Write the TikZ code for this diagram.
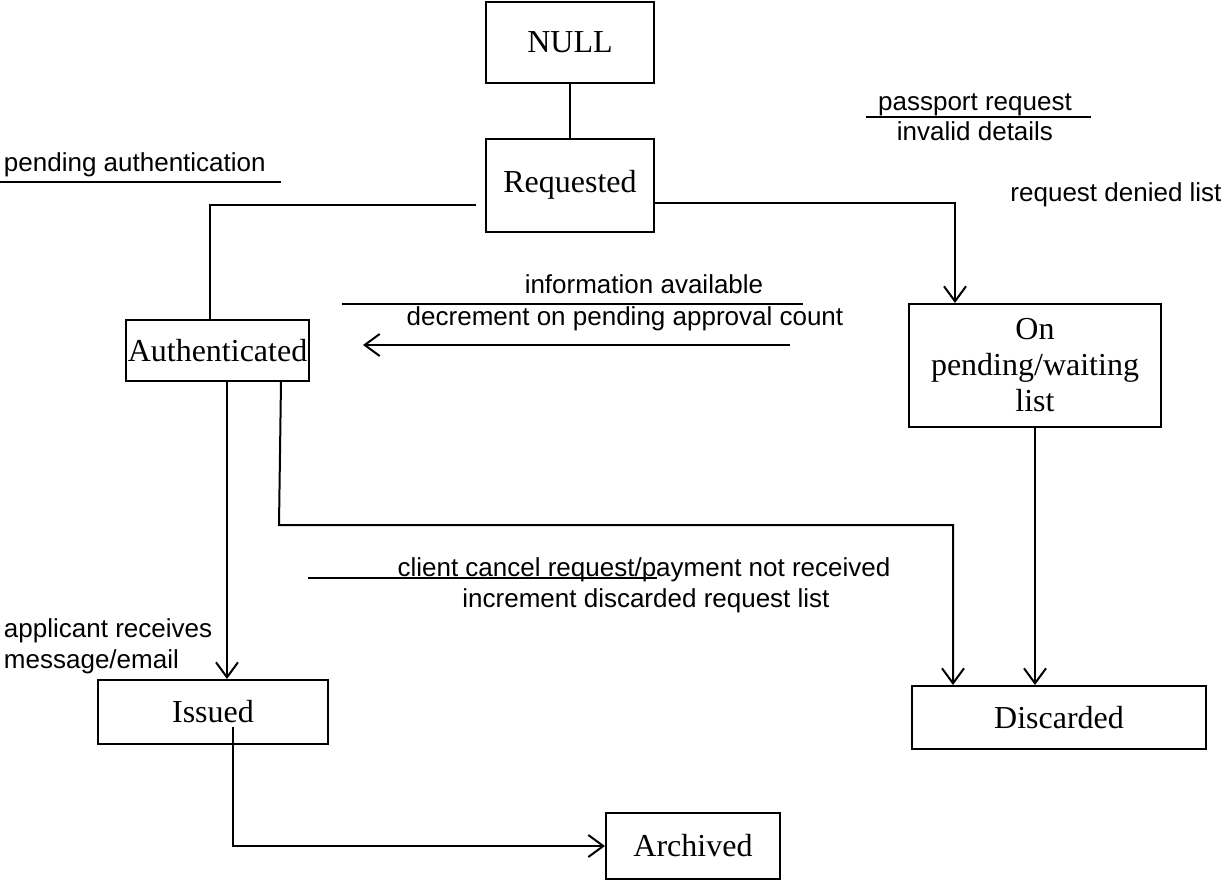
\documentclass[tikz,border=0pt]{standalone}
\usepackage{fontspec}
\setmainfont{Liberation Serif}
\setsansfont{Liberation Sans}
\usetikzlibrary{arrows.meta}
\begin{document}
\begin{tikzpicture}[x=1pt,y=-1pt,
  every path/.style={line width=2pt},
  state/.style={draw, line width=2pt, inner sep=0pt, align=center,
    font=\fontsize{32}{36}\selectfont\rmfamily},
  lbl/.style={inner sep=0pt, font=\fontsize{26}{30}\selectfont\sffamily},
  arr/.style={-{Straight Barb[length=15pt,width=22pt,line width=2pt]}},
  rule/.style={line width=2pt}]
\useasboundingbox (0,0) rectangle (1227,879);

% states
\node[state, minimum width=168pt, minimum height=81pt] (null) at (570,42.5) {NULL};
\node[state, minimum width=168pt, minimum height=93pt] (req) at (570,185) {Requested};
\node[state, minimum width=183pt, minimum height=61pt] (auth) at (217.5,350.5) {Authenticated};
\node[state, minimum width=252pt, minimum height=123pt] (pend) at (1035,365.5) {On\\pending/waiting\\list};
\node[state, minimum width=230pt, minimum height=64pt] (issued) at (213,712) {Issued};
\node[state, minimum width=294pt, minimum height=63pt] (disc) at (1059,717.5) {Discarded};
\node[state, minimum width=174pt, minimum height=66pt] (arch) at (693,846) {Archived};

% connectors
\draw (null) -- (req);
\draw ([shift={(-9pt,-20pt)}]req.west) -| ([xshift=-7.5pt]auth.north);
\draw[arr] ([yshift=-18pt]req.east) -| ([xshift=-80pt]pend.north);
\coordinate (infoR) at (790,345);
\coordinate (infoL) at (363,345);
\draw[arr] (infoR) -- (infoL);
\draw[arr] ([xshift=9.5pt]auth.south) -- ([xshift=14pt]issued.north);
\coordinate (bend) at (279,525);
\draw[arr] ([xshift=63.5pt]auth.south) -- (bend) -| ([xshift=-106pt]disc.north);
\draw[arr] (pend.south) -- ([xshift=-24pt]disc.north);
\draw[arr] ([shift={(20pt,-15pt)}]issued.center) |- (arch.west);

% labels
\node[lbl, anchor=base west] (lpa) at (3,171) {pending authentication};
\draw[rule] (0,182) -- (281,182);

\node[lbl, anchor=base] (lpr) at (975,110) {passport request};
\node[lbl, anchor=base] (lid) at (975,140) {invalid details};
\draw[rule] (866,117) -- (1091,117);

\node[lbl, anchor=base] (lrd) at (1116,201) {request denied list};

\node[lbl, anchor=base] (lia) at (644,293) {information available};
\draw[rule] (342,304) -- (803,304);
\node[lbl, anchor=base] (ldp) at (625,325) {decrement on pending approval count};

\node[lbl, anchor=base] (lcc) at (644,576) {client cancel request/payment not received};
\draw[rule] (308,578) -- (657,578);
\node[lbl, anchor=base] (lid2) at (646,607) {increment discarded request list};

\node[lbl, anchor=base west] (lar) at (3,637) {applicant receives};
\node[lbl, anchor=base west] (lme) at (3,668) {message/email};
\end{tikzpicture}
\end{document}
